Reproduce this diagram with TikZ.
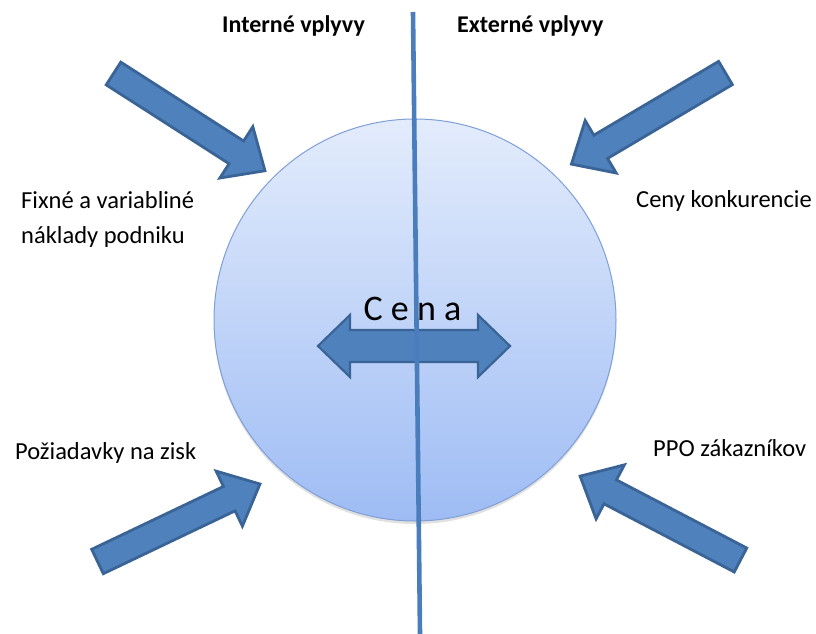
\documentclass[tikz,border=0pt]{standalone}
\usepackage{fontspec}
\setmainfont{Carlito}
\definecolor{arrfill}{HTML}{4F81BD}
\definecolor{arrdraw}{HTML}{3A6496}
\definecolor{circtop}{HTML}{E3ECFC}
\definecolor{circbot}{HTML}{9EBCF4}
\definecolor{circdraw}{HTML}{7F9FD6}
\definecolor{linecol}{HTML}{4A7DBB}
\newcommand\myblockarrow[3]{%
  \draw[blk, shift={#1}, rotate=#2]
    (0,-13.5) -- (#3-34,-13.5) -- (#3-34,-30.5) -- (#3,0) -- (#3-34,30.5) -- (#3-34,13.5) -- (0,13.5) -- cycle;}
\begin{document}
\begin{tikzpicture}[x=1pt,y=-1pt,
  blk/.style={fill=arrfill, draw=arrdraw, line width=2.8pt, line join=miter},
  lbl/.style={inner sep=0pt, font=\fontsize{24.5}{28}\selectfont, anchor=base west},
  ttl/.style={inner sep=0pt, font=\bfseries\fontsize{24}{28}\selectfont, anchor=base west},
  vline/.style={draw=linecol, line width=4.6pt}]
\useasboundingbox (0,0) rectangle (816,634);
% shadow and circle
\fill[black, opacity=0.12] (415,323) circle (201);
\shade[top color=circtop, bottom color=circbot, draw=circdraw, line width=1pt] (415,320) circle (201);
\node[circle, minimum size=402pt, inner sep=0pt] (circ) at (415,320) {};
% double arrow
\draw[blk, line width=2.2pt] (318,346) -- (350,315) -- (350,330) -- (478,330) -- (478,315) -- (510,346) -- (478,377) -- (478,362) -- (350,362) -- (350,377) -- cycle;
\node[inner sep=0pt, anchor=base, font=\fontsize{36}{40}\selectfont] (cena) at (412.5,320) {C e n a};
% vertical divider
\coordinate (ltop) at (413,12);
\coordinate (lbot) at (420,634);
\draw[vline] (ltop) -- (lbot);
% block arrows
\myblockarrow{(113.5,73.5)}{-32.7}{180}
\myblockarrow{(725.5,73)}{-149.4}{179}
\myblockarrow{(97.5,561.5)}{25.5}{180}
\myblockarrow{(740.5,560)}{152.4}{181}
% titles
\node[ttl] (int) at (222,33) {Interné vplyvy};
\node[ttl] (ext) at (457,33) {Externé vplyvy};
% labels
\node[lbl] (fix1) at (21,208) {Fixné a variabliné};
\node[lbl] (fix2) at (21,243) {náklady podniku};
\node[lbl] (ceny) at (636,207) {Ceny konkurencie};
\node[lbl] (poz) at (15,459) {Požiadavky na zisk};
\node[lbl] (ppo) at (653,456) {PPO zákazníkov};
\end{tikzpicture}
\end{document}
